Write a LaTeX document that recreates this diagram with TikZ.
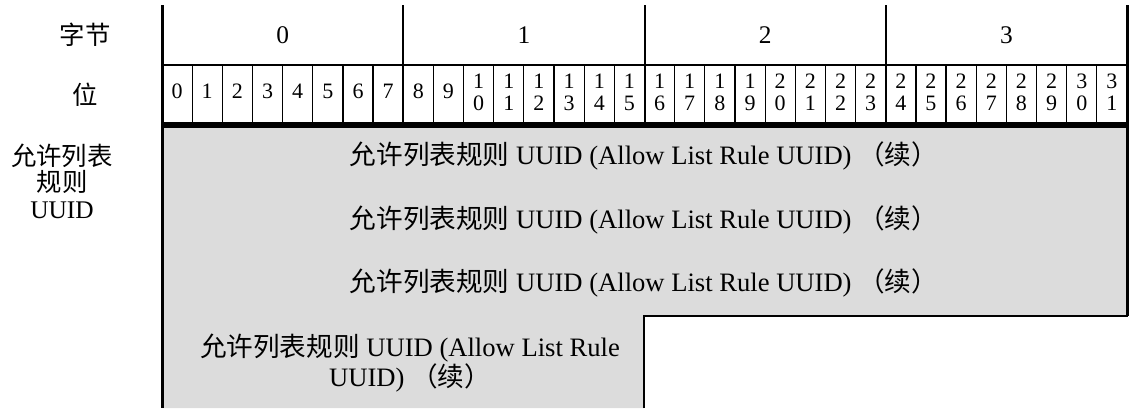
\documentclass[tikz,border=0pt]{standalone}
\usepackage{fontspec}
\setmainfont{Liberation Serif}
\newfontfamily\cjk{Noto Sans CJK SC}
\definecolor{fieldgray}{RGB}{220,220,220}
\tikzset{
  hdrlbl/.style={font=\fontsize{12.7}{13.3}\selectfont, align=center, inner sep=0pt},
  bitlbl/.style={font=\fontsize{11}{11}\selectfont, align=center, inner sep=0pt},
  fieldlbl/.style={font=\fontsize{13.3}{15}\selectfont, align=center, inner sep=0pt},
}
\newcommand{\rowtext}{{\cjk 允许列表规则} UUID (Allow List Rule UUID) {\cjk （续）}}

\begin{document}
\begin{tikzpicture}[x=0.5pt,y=-0.5pt]
  \useasboundingbox (0,0) rectangle (1131,408);

  % grey field
  \fill[fieldgray] (162,127) -- (1127,127) -- (1127,316) -- (644,316)
    -- (644,408) -- (162,408) -- cycle;

  % byte row
  \foreach \b in {0,...,3} {
    \node[hdrlbl] (byte\b) at (162+241.25*\b+120.6, 35) {\b};
  }
  \foreach \b in {1,2,3} {
    \draw[line width=1pt] (162+241.25*\b, 5) -- (162+241.25*\b, 122);
  }
  \draw[line width=1pt] (162,65) -- (1127,65);

  % bit row
  \foreach \i in {0,...,31} {
    \pgfmathtruncatemacro\hi{\i/10}
    \pgfmathtruncatemacro\lo{mod(\i,10)}
    \ifnum\i<10
      \node[bitlbl] (bit\i) at (162+30.156*\i+15.08, 91) {\i};
    \else
      \node[bitlbl] (bit\i) at (162+30.156*\i+15.08, 92) {\hi\\\lo};
    \fi
  }
  \foreach \i in {1,...,31} {
    \draw[line width=0.6pt] (162+30.156*\i, 65) -- (162+30.156*\i, 122);
  }
  \draw[line width=3pt] (162,124.5) -- (1127,124.5);

  % outline
  \draw[line width=1.5pt] (162,5) -- (162,408);
  \draw[line width=1.5pt] (1127,5) -- (1127,316);
  \draw[line width=1pt] (644,408) -- (644,316) -- (1127.7,316);

  % left labels
  \node[hdrlbl] (bytehdr) at (85,35) {\cjk 字节};
  \node[hdrlbl] (bithdr) at (85,95) {\cjk 位};
  \node[hdrlbl] (fieldhdr) at (62,181) {{\cjk 允许列表}\\{\cjk 规则}\\UUID};

  % field rows
  \node[fieldlbl] (row1) at (644,156) {\rowtext};
  \node[fieldlbl] (row2) at (644,220) {\rowtext};
  \node[fieldlbl] (row3) at (644,283) {\rowtext};
  \node[fieldlbl] (row4) at (410,363)
    {{\cjk 允许列表规则} UUID (Allow List Rule\\UUID) {\cjk （续）}};
\end{tikzpicture}
\end{document}
